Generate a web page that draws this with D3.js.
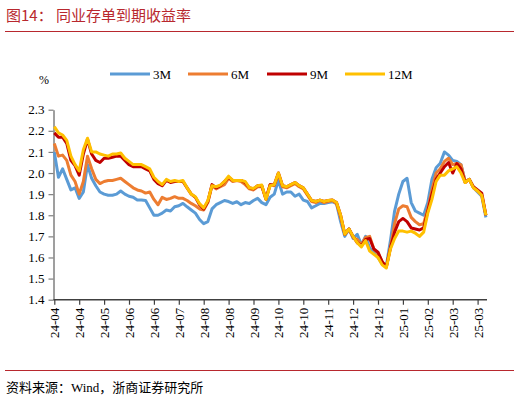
<!DOCTYPE html>
<html>
<head>
<meta charset="utf-8">
<script src="https://cdn.jsdelivr.net/npm/d3@7"></script>
<style>
  body { margin: 0; background: #fff; }
  svg text { font-family: "Liberation Serif", "Noto Sans CJK SC", serif; }
</style>
</head>
<body>
<div id="chart"></div>
<script>
// tick labels, one every 6 points
const tickLabels = ["24-04","24-04","24-05","24-06","24-06","24-07","24-08","24-08","24-09",
                    "24-10","24-10","24-11","24-12","24-12","25-01","25-02","25-03","25-03"];
const seriesNames = ["3M", "6M", "9M", "12M"];
const colors = ["#5B9BD5", "#ED7D31", "#C00000", "#FFC000"];

const m3 = [2.10,1.98,2.02,1.97,1.92,1.93,1.88,1.91,2.04,1.975,
            1.94,1.91,1.90,1.895,1.895,1.90,1.915,1.90,1.89,1.885,
            1.872,1.872,1.87,1.835,1.80,1.80,1.81,1.825,1.82,1.84,
            1.845,1.856,1.84,1.825,1.81,1.78,1.76,1.77,1.83,1.85,
            1.86,1.87,1.865,1.856,1.864,1.85,1.86,1.856,1.87,1.88,
            1.86,1.85,1.885,1.90,1.965,1.90,1.91,1.91,1.89,1.90,
            1.872,1.865,1.835,1.845,1.856,1.856,1.86,1.864,1.855,1.77,
            1.70,1.735,1.69,1.71,1.66,1.70,1.645,1.625,1.60,1.57,
            1.56,1.68,1.82,1.90,1.96,1.975,1.86,1.82,1.81,1.80,
            1.86,1.97,2.025,2.046,2.10,2.085,2.06,2.055,2.04,1.96,
            1.97,1.93,1.91,1.89,1.79];

const m6 = [2.14,2.08,2.085,2.06,1.99,1.96,1.90,1.96,2.08,2.02,
            1.97,1.95,1.96,1.965,1.965,1.97,1.975,1.96,1.945,1.93,
            1.92,1.915,1.905,1.91,1.875,1.85,1.885,1.875,1.88,1.888,
            1.88,1.88,1.87,1.856,1.845,1.83,1.825,1.86,1.94,1.925,
            1.935,1.945,1.975,1.96,1.965,1.96,1.945,1.925,1.92,1.935,
            1.935,1.88,1.945,1.94,1.995,1.935,1.93,1.94,1.95,1.935,
            1.925,1.895,1.865,1.86,1.87,1.86,1.865,1.87,1.855,1.79,
            1.71,1.735,1.695,1.685,1.66,1.695,1.70,1.64,1.62,1.58,
            1.555,1.65,1.76,1.83,1.845,1.84,1.79,1.77,1.755,1.76,
            1.83,1.92,2.00,2.02,2.055,2.07,2.04,2.046,2.04,1.96,
            1.97,1.93,1.915,1.895,1.80];

const m9 = [2.19,2.17,2.17,2.14,2.06,2.035,1.99,2.09,2.16,2.09,
            2.06,2.05,2.07,2.07,2.075,2.08,2.08,2.06,2.04,2.03,
            2.03,2.03,2.02,2.01,1.97,1.95,1.94,1.965,1.955,1.96,
            1.96,1.96,1.93,1.90,1.885,1.85,1.83,1.865,1.945,1.93,
            1.94,1.96,1.98,1.965,1.965,1.965,1.955,1.93,1.925,1.94,
            1.94,1.875,1.945,1.945,2.00,1.94,1.935,1.945,1.955,1.94,
            1.93,1.90,1.87,1.865,1.872,1.865,1.87,1.872,1.86,1.80,
            1.71,1.735,1.70,1.67,1.655,1.685,1.69,1.64,1.625,1.58,
            1.555,1.645,1.72,1.77,1.785,1.77,1.74,1.735,1.73,1.74,
            1.82,1.90,1.97,2.00,2.03,2.05,2.00,2.045,2.02,1.955,
            1.97,1.935,1.92,1.905,1.80];

const m12 = [2.22,2.19,2.18,2.155,2.08,2.04,2.01,2.11,2.165,2.10,
             2.10,2.09,2.085,2.08,2.09,2.09,2.095,2.07,2.055,2.04,
             2.04,2.04,2.03,2.02,1.98,1.96,1.945,1.97,1.96,1.965,
             1.96,1.965,1.93,1.90,1.888,1.855,1.835,1.87,1.94,1.935,
             1.943,1.96,1.985,1.965,1.965,1.965,1.96,1.93,1.927,1.94,
             1.943,1.875,1.94,1.945,2.00,1.94,1.935,1.945,1.955,1.94,
             1.93,1.90,1.87,1.865,1.872,1.865,1.87,1.872,1.86,1.80,
             1.71,1.735,1.70,1.67,1.65,1.68,1.63,1.615,1.60,1.565,
             1.55,1.64,1.69,1.725,1.725,1.72,1.725,1.715,1.70,1.72,
             1.81,1.875,1.96,1.99,1.99,2.01,2.02,2.03,2.00,1.955,
             1.97,1.93,1.915,1.895,1.80];

const series = [m3, m6, m9, m12];
const yTicks = [1.4,1.5,1.6,1.7,1.8,1.9,2.0,2.1,2.2,2.3];

const W = 520, H = 402;
const svg = d3.select("#chart").append("svg")
  .attr("width", W).attr("height", H);

// title
svg.append("text")
  .attr("x", 6).attr("y", 21)
  .attr("fill", "#B8282E")
  .style("font-family", "'Noto Sans CJK SC', sans-serif")
  .style("font-size", "15px")
  .text("图14：  同业存单到期收益率");
svg.append("line")
  .attr("x1", 5).attr("x2", 514).attr("y1", 31.5).attr("y2", 31.5)
  .attr("stroke", "#B8282E").attr("stroke-width", 1);

const x = d3.scaleLinear().domain([0, m3.length - 1]).range([54.3, 485.9]);
const y = d3.scaleLinear().domain([1.4, 2.3]).range([299.7, 109.7]);

// y axis
const yAxis = svg.append("g")
  .attr("transform", "translate(53.5,0)")
  .call(d3.axisLeft(y).tickValues(yTicks).tickFormat(d3.format(".1f")).tickSize(5).tickSizeOuter(0));
yAxis.select(".domain").attr("stroke", "#7f7f7f").attr("stroke-width", 1.5);
yAxis.selectAll(".tick line").attr("stroke", "#7f7f7f").attr("stroke-width", 1.2);
yAxis.selectAll(".tick text").attr("x", -9).style("font-size", "13px").attr("fill", "#000");

// x axis
const tickIdx = tickLabels.map((d, i) => i * 6);
const xAxis = svg.append("g")
  .attr("transform", "translate(0,299.7)")
  .call(d3.axisBottom(x).tickValues(tickIdx).tickFormat((d, i) => tickLabels[i]).tickSize(5).tickSizeOuter(0));
xAxis.select(".domain").attr("d", "M53.5,0H487").attr("stroke", "#404040").attr("stroke-width", 1.5);
xAxis.selectAll(".tick line").attr("stroke", "#404040").attr("stroke-width", 1.2);
xAxis.selectAll(".tick text")
  .attr("transform", "rotate(-90)")
  .attr("x", -8).attr("y", 0).attr("dy", "0.35em")
  .attr("text-anchor", "end")
  .style("font-size", "13px").attr("fill", "#000");

// % unit
svg.append("text").attr("x", 39).attr("y", 84)
  .style("font-size", "12px").text("%");

// lines
const line = d3.line().x((d, i) => x(i)).y(d => y(d));
series.forEach((s, k) => {
  svg.append("path")
    .datum(s)
    .attr("d", line)
    .attr("fill", "none")
    .attr("stroke", colors[k])
    .attr("stroke-width", 3)
    .attr("stroke-linejoin", "round");
});

// legend
const legX = [110, 188, 267, 345];
seriesNames.forEach((n, k) => {
  const g = svg.append("g").attr("transform", `translate(${legX[k]},74)`);
  g.append("line").attr("x1", 0).attr("x2", 40).attr("y1", 0).attr("y2", 0)
    .attr("stroke", colors[k]).attr("stroke-width", 3);
  g.append("text").attr("x", 43).attr("y", 5)
    .style("font-size", "13px").text(n);
});

// bottom rule and source
svg.append("line")
  .attr("x1", 5).attr("x2", 514).attr("y1", 370.5).attr("y2", 370.5)
  .attr("stroke", "#B8282E").attr("stroke-width", 1);
svg.append("text")
  .attr("x", 6).attr("y", 392)
  .style("font-size", "13px")
  .text("资料来源：Wind，浙商证券研究所");
</script>
</body>
</html>
